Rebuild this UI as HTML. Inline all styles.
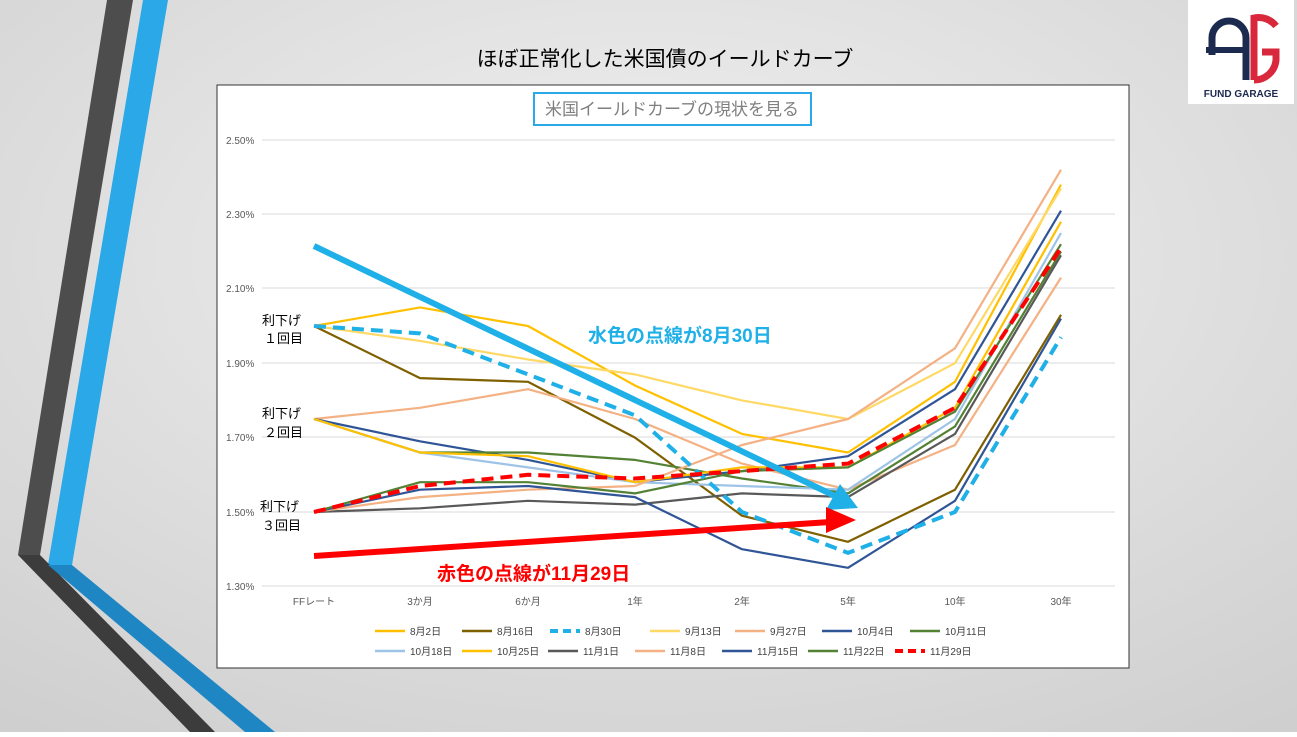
<!DOCTYPE html>
<html><head><meta charset="utf-8"><style>
body{margin:0;width:1297px;height:732px;overflow:hidden;font-family:"Liberation Sans","Noto Sans CJK JP",sans-serif;}
</style></head><body>
<svg width="1297" height="732" xmlns="http://www.w3.org/2000/svg" font-family="Liberation Sans, Noto Sans CJK JP, sans-serif">
<defs>
<radialGradient id="bg" cx="0.5" cy="0.35" r="0.8">
<stop offset="0" stop-color="#f2f2f2"/><stop offset="1" stop-color="#cfcfcf"/></radialGradient>
</defs>
<rect width="1297" height="732" fill="url(#bg)"/>
<polygon points="107,0 133,0 40,555 18,555" fill="#4d4d4d"/>
<polygon points="143,0 168,0 72,565 48,565" fill="#2aa8e8"/>
<polygon points="18,555 40,555 215,732 190,732" fill="#3c3c3c"/>
<polygon points="48,565 72,565 275,732 245,732" fill="#1f86c4"/>
<rect x="1188" y="0" width="106" height="104" fill="#fff"/>
<path d="M1212,55 V38 A17,17 0 0 1 1246,38 V80" fill="none" stroke="#1c2a4f" stroke-width="7"/>
<line x1="1206" y1="50" x2="1246" y2="50" stroke="#1c2a4f" stroke-width="6"/>
<path d="M1276,26 A22,22 0 0 0 1254,18 V80 M1254,80 A22,22 0 0 0 1276,60 V52 H1262" fill="none" stroke="#d9283c" stroke-width="7"/>
<text x="1241" y="97" font-size="10" font-weight="bold" fill="#1c2a4f" text-anchor="middle">FUND GARAGE</text>
<text x="665" y="66" font-size="21" text-anchor="middle" fill="#000">ほぼ正常化した米国債のイールドカーブ</text>
<rect x="217" y="85" width="912" height="583" fill="#fff" stroke="#333" stroke-width="1"/>
<rect x="534" y="93" width="277" height="32" fill="none" stroke="#2aa8e8" stroke-width="2"/>
<text x="672" y="115" font-size="17" text-anchor="middle" fill="#7f7f7f">米国イールドカーブの現状を見る</text>
<g stroke="#d9d9d9" stroke-width="1">
<line x1="262" y1="140" x2="1115" y2="140"/><line x1="262" y1="214" x2="1115" y2="214"/><line x1="262" y1="288" x2="1115" y2="288"/><line x1="262" y1="363" x2="1115" y2="363"/><line x1="262" y1="437" x2="1115" y2="437"/><line x1="262" y1="512" x2="1115" y2="512"/><line x1="262" y1="586" x2="1115" y2="586"/>
</g>
<g font-size="10" fill="#595959">
<text x="226" y="144">2.50%</text><text x="226" y="218">2.30%</text><text x="226" y="292">2.10%</text><text x="226" y="367">1.90%</text><text x="226" y="441">1.70%</text><text x="226" y="516">1.50%</text><text x="226" y="590">1.30%</text>
</g>
<g font-size="10" fill="#595959" text-anchor="middle">
<text x="314" y="605">FFレート</text><text x="420" y="605">3か月</text><text x="528" y="605">6か月</text><text x="635" y="605">1年</text><text x="742" y="605">2年</text><text x="848" y="605">5年</text><text x="955" y="605">10年</text><text x="1061" y="605">30年</text>
</g>
<g id="s" fill="none" stroke-width="2.2" stroke-linejoin="round"></g>
<g font-size="13" fill="#000">
<text x="262" y="325">利下げ</text><text x="264" y="343">１回目</text>
<text x="262" y="418">利下げ</text><text x="264" y="437">２回目</text>
<text x="260" y="511">利下げ</text><text x="262" y="530">３回目</text>
</g>
<line x1="314" y1="246" x2="835" y2="496" stroke="#1fb0e8" stroke-width="6"/>
<polygon points="858,508 826,510 840,484" fill="#1fb0e8"/>
<line x1="314" y1="556" x2="830" y2="522" stroke="#ff0000" stroke-width="6"/>
<polygon points="856,520 826,533 826,507" fill="#ff0000"/>
<text x="588" y="342" font-size="19" font-weight="bold" fill="#1fb0e8">水色の点線が8月30日</text>
<text x="437" y="580" font-size="19" font-weight="bold" fill="#ff0000">赤色の点線が11月29日</text>
<g id="lg" font-size="10" fill="#404040"></g>
</svg>
<script>
var xs=[314,420,528,635,742,848,955,1061];
function Y(v){return 512-(v-1.5)*372;}
var S=[
["8月2日","#ffc000",0,[2.00,2.05,2.00,1.84,1.71,1.66,1.85,2.38]],
["8月16日","#7f6000",0,[2.00,1.86,1.85,1.70,1.49,1.42,1.56,2.03]],
["9月13日","#ffd966",0,[2.00,1.96,1.91,1.87,1.80,1.75,1.90,2.37]],
["9月27日","#f4b183",0,[1.75,1.78,1.83,1.75,1.63,1.56,1.68,2.13]],
["10月4日","#2f5597",0,[1.75,1.69,1.64,1.58,1.61,1.65,1.83,2.31]],
["10月11日","#548235",0,[1.75,1.66,1.66,1.64,1.59,1.55,1.73,2.20]],
["10月18日","#9dc3e6",0,[1.75,1.66,1.62,1.58,1.57,1.56,1.75,2.25]],
["10月25日","#ffc000",0,[1.75,1.66,1.65,1.58,1.62,1.62,1.78,2.28]],
["11月1日","#595959",0,[1.50,1.51,1.53,1.52,1.55,1.54,1.71,2.19]],
["11月8日","#f4b183",0,[1.50,1.54,1.56,1.57,1.68,1.75,1.94,2.42]],
["11月15日","#2f5597",0,[1.50,1.56,1.57,1.54,1.40,1.35,1.53,2.02]],
["11月22日","#548235",0,[1.50,1.58,1.58,1.55,1.61,1.62,1.77,2.22]],
["8月30日","#1fb0e8",1,[2.00,1.98,1.87,1.76,1.50,1.39,1.50,1.97]],
["11月29日","#ff0000",1,[1.50,1.57,1.60,1.59,1.61,1.63,1.78,2.21]]];
var g=document.getElementById('s'),h='';
S.forEach(function(s){var p=s[3].map(function(v,i){return xs[i]+','+Y(v).toFixed(1)}).join(' ');
h+='<polyline points="'+p+'" stroke="'+s[1]+'"'+(s[2]?' stroke-width="4" stroke-dasharray="12,7"':'')+'/>';});
g.innerHTML=h;
var L=[["8月2日","#ffc000",0],["8月16日","#7f6000",0],["8月30日","#1fb0e8",1],["9月13日","#ffd966",0],["9月27日","#f4b183",0],["10月4日","#2f5597",0],["10月11日","#548235",0],
["10月18日","#9dc3e6",0],["10月25日","#ffc000",0],["11月1日","#595959",0],["11月8日","#f4b183",0],["11月15日","#2f5597",0],["11月22日","#548235",0],["11月29日","#ff0000",1]];
var tx=[410,497,585,685,770,857,945,410,497,583,670,757,843,930],lh='';
L.forEach(function(l,i){var y=i<7?631:651,x=tx[i];
lh+='<line x1="'+(x-35)+'" y1="'+y+'" x2="'+(x-5)+'" y2="'+y+'" stroke="'+l[1]+'" stroke-width="'+(l[2]?4:2.5)+'"'+(l[2]?' stroke-dasharray="8,5"':'')+'/>';
lh+='<text x="'+x+'" y="'+(y+4)+'">'+l[0]+'</text>';});
document.getElementById('lg').innerHTML=lh;
</script>
</body></html>
